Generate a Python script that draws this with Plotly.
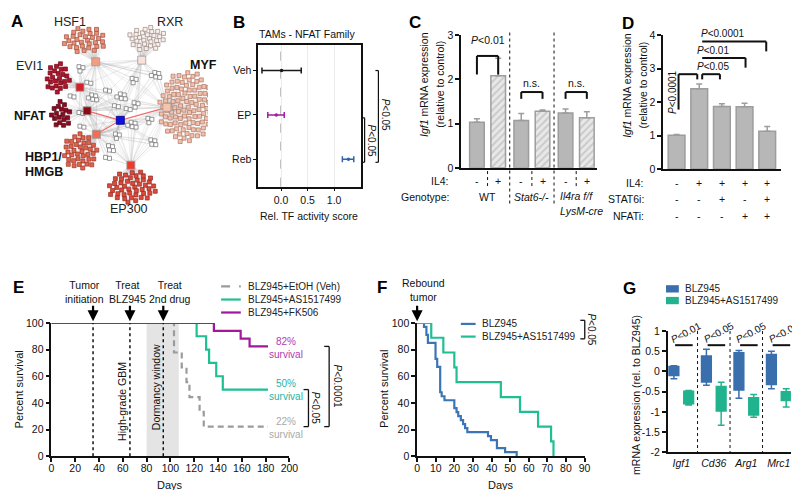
import numpy as np
import plotly.graph_objects as go

W, H = 800, 490
FONT = "Liberation Sans, Arial, Helvetica, sans-serif"
FS = 10.5

# ===================== DATA =====================
# A: TF-family network (number of target genes per family)
tf_families = ["HSF1", "RXR", "EVI1", "NFAT", "MYF", "HBP1/HMGB", "EP300"]
family_targets = [32, 28, 24, 18, 100, 38, 45]

# B: relative TF activity (NFAT family, TAMs)
b_groups = ["Veh", "EP", "Reb"]
b_score = [0.01, -0.09, 1.27]
b_low = [-0.36, -0.25, 1.155]
b_high = [0.38, 0.06, 1.37]

# C: Igf1 expression by genotype, control vs IL4
c_genotypes = ["WT", "Stat6-/-", "Il4ra f/f"]
c_ctrl = [1.03, 1.07, 1.24]
c_ctrl_err = [0.08, 0.16, 0.09]
c_il4 = [2.08, 1.28, 1.13]
c_il4_err = [0.40, 0.03, 0.14]

# D: Igf1 expression with inhibitors
d_il4 = ["-", "+", "+", "+", "+"]
d_stat6i = ["-", "-", "+", "-", "+"]
d_nfati = ["-", "-", "-", "+", "+"]
d_mean = [1.01, 2.40, 1.87, 1.86, 1.13]
d_err = [0.02, 0.14, 0.08, 0.11, 0.14]

# E: survival after BLZ945 + second drug
e_veh_days = [0, 103, 109.5, 113.5, 116, 124.5, 128, 182]
e_veh_surv = [100, 77.8, 66.7, 55.6, 44.4, 33.3, 22.2, 22.2]
e_as_days = [0, 122, 130, 132.5, 138.5, 144, 182]
e_as_surv = [100, 90, 80, 70, 60, 50, 50]
e_fk_days = [0, 136.5, 159, 166.5, 182]
e_fk_surv = [100, 94.1, 88.2, 82.4, 82.4]
e_event_days = [35, 66, 94]
e_dormancy = [80, 107]

# F: survival after rebound
f_blz_days = [0, 3.7, 5.0, 5.8, 9.9, 10.8, 12.4, 13.2, 14.7, 20, 21.2, 22.1, 23.5,
              24.7, 25.8, 27, 38.1, 39.7, 42.9, 47.3, 53.5]
f_blz_surv = [100, 97, 91, 85, 73, 67, 48, 45, 42, 36, 33, 30, 27, 24, 21, 18,
              15, 12, 6, 3, 0]
f_as_days = [0, 7.6, 14.1, 20, 21.2, 45, 55.3, 65, 72, 73.3]
f_as_surv = [100, 88.9, 77.8, 66.7, 55.6, 44.4, 33.3, 22.2, 11.1, 0]

# G: mRNA expression boxes (rel. to BLZ945)
g_genes = ["Igf1", "Cd36", "Arg1", "Mrc1"]
g_blz_min = [-0.18, -0.34, -0.66, -0.43]
g_blz_q1 = [-0.10, -0.26, -0.46, -0.32]
g_blz_med = [0.02, 0.10, 0.05, 0.05]
g_blz_q3 = [0.12, 0.38, 0.46, 0.42]
g_blz_max = [0.14, 0.55, 0.52, 0.50]
g_as_min = [-0.83, -1.33, -1.13, -0.88]
g_as_q1 = [-0.80, -0.98, -1.08, -0.72]
g_as_med = [-0.62, -0.60, -0.85, -0.58]
g_as_q3 = [-0.49, -0.37, -0.65, -0.50]
g_as_max = [-0.47, -0.27, -0.57, -0.43]
g_pvals = ["P<0.01", "P<0.05", "P<0.05", "P<0.01"]

# ===================== HELPERS =====================
def PX(x):
    return x / W


def PY(y):
    return 1 - y / H


class Frame:
    def __init__(self, px0, px1, xr, py0, py1, yr):
        self.px0, self.px1, self.xr = px0, px1, xr
        self.py0, self.py1, self.yr = py0, py1, yr

    def X(self, v):
        return self.px0 + (v - self.xr[0]) / (self.xr[1] - self.xr[0]) * (self.px1 - self.px0)

    def Y(self, v):
        return self.py1 - (v - self.yr[0]) / (self.yr[1] - self.yr[0]) * (self.py1 - self.py0)


annotations, shapes, traces = [], [], []


def text(x, y, s, size=FS, color="#111", xanchor="center", yanchor="middle", angle=0):
    annotations.append(dict(x=PX(x), y=PY(y), xref="paper", yref="paper", text=s,
                            showarrow=False, font=dict(family=FONT, size=size, color=color),
                            xanchor=xanchor, yanchor=yanchor, textangle=angle))


def seg(x0, y0, x1, y1, color="#111", width=1.5, dash=None, layer="above"):
    ln = dict(color=color, width=width)
    if dash:
        ln["dash"] = dash
    shapes.append(dict(type="line", xref="paper", yref="paper", x0=PX(x0), y0=PY(y0),
                       x1=PX(x1), y1=PY(y1), line=ln, layer=layer))


def rect(x0, y0, x1, y1, color):
    shapes.append(dict(type="rect", xref="paper", yref="paper", x0=PX(x0), y0=PY(y1),
                       x1=PX(x1), y1=PY(y0), fillcolor=color, line=dict(width=0)))


def arrow(x, ytip, length=17):
    annotations.append(dict(x=PX(x), y=PY(ytip), xref="paper", yref="paper", ax=0, ay=-length,
                            text="", showarrow=True, arrowhead=2, arrowsize=1,
                            arrowwidth=2.2, arrowcolor="#000", standoff=0))


P = "<i>P</i>&lt;"

frA = Frame(0, 200, (0, 200), 0, 225, (225, 0))
frB = Frame(251, 355, (-0.43, 1.5), 32, 177, (2.615, -0.57))
frC = Frame(457, 595, (-0.356, 2.711), 21.7, 157.7, (0, 3))
frD = Frame(662, 782, (-0.596, 4.62), 21.7, 159, (0, 4))
frE = Frame(41, 282.7, (0, 200), 316.7, 453.3, (0, 100))
frF = Frame(412.3, 582.3, (0, 90), 316.7, 453.3, (0, 100))
frG = Frame(666.7, 791.7, (-0.418, 3.37), 325, 449.3, (-2, 1))

# ===================== PANEL A =====================
A_STYLE = {
    "HSF1": dict(hub=(86, 49), c=(75, 27), r=(22, 13.5), fill="#e8917a", edge="#a24f3b", hubc="#f59c80"),
    "RXR": dict(hub=(132.7, 47.3), c=(138, 25), r=(19, 12.5), fill="#f9f0ec", edge="#9a8781", hubc="#f8e2da"),
    "EVI1": dict(hub=(70, 75), c=(47.5, 66), r=(12.5, 15.5), fill="#b3132b", edge="#760a1a", hubc="#d81e26"),
    "NFAT": dict(hub=(77.3, 99.3), c=(51, 103), r=(10, 14.5), fill="#8c0c22", edge="#580613", hubc="#8b0a14"),
    "MYF": dict(hub=(158.3, 95.7), c=(178, 95.5), r=(28, 37), fill="#f2c1ae", edge="#ad7563", hubc="#f9c2ab"),
    "HBP1/HMGB": dict(hub=(86.7, 123.3), c=(70, 141), r=(18, 18.5), fill="#e0634e", edge="#9c3526", hubc="#f56b53"),
    "EP300": dict(hub=(121.7, 155), c=(123, 177.5), r=(25, 16.5), fill="#dc4a3c", edge="#962a20", hubc="#ef3b2c"),
}
BLUE_NODE = (111, 109)
golden = np.pi * (3 - np.sqrt(5))
edge_x, edge_y = [], []
member_traces = []
hubs = []
for name, n in zip(tf_families, family_targets):
    st = A_STYLE[name]
    hx, hy = st["hub"]
    hubs.append((hx, hy))
    k = np.arange(n)
    rr = np.sqrt((k + 0.5) / n)
    th = k * golden
    mx = st["c"][0] + st["r"][0] * rr * np.cos(th)
    my = st["c"][1] + st["r"][1] * rr * np.sin(th)
    for a, b in zip(mx, my):
        edge_x += [hx, a, None]
        edge_y += [hy, b, None]
    member_traces.append(go.Scatter(
        x=mx, y=my, mode="markers", xaxis="x", yaxis="y", hoverinfo="skip",
        marker=dict(symbol="square", size=4, color=st["fill"], line=dict(color=st["edge"], width=0.7))))

# small unassigned target nodes (layout of the network drawing)
white_groups = [((69, 54), 3), ((77, 70), 2), ((82, 83), 5), ((60, 84), 2), ((69, 101), 2),
                ((70, 115), 2), ((96, 78), 2), ((111, 82), 5), ((123, 66), 3), ((105, 94), 2),
                ((125, 91), 3), ((122, 111), 5), ((99, 135), 4), ((142, 129), 4),
                ((146, 60), 5), ((117, 97), 2), ((96, 147), 2), ((106, 123), 3), ((139, 107), 3)]
offs = [(0, 0), (4, 1), (1, 4.5), (5, 5), (-3.5, 3)]
wx, wy = [], []
for (gx, gy), cnt in white_groups:
    for j in range(cnt):
        wx.append(gx + offs[j][0])
        wy.append(gy + offs[j][1])
hub_arr = np.array(hubs + [BLUE_NODE])
for a, b in zip(wx, wy):
    d = np.hypot(hub_arr[:, 0] - a, hub_arr[:, 1] - b)
    for idx in np.argsort(d)[:4]:
        edge_x += [hub_arr[idx, 0], a, None]
        edge_y += [hub_arr[idx, 1], b, None]
for i in range(len(hubs)):
    for j in range(i + 1, len(hubs)):
        edge_x += [hubs[i][0], hubs[j][0], None]
        edge_y += [hubs[i][1], hubs[j][1], None]

traces.append(go.Scatter(x=edge_x, y=edge_y, mode="lines", xaxis="x", yaxis="y", hoverinfo="skip",
                         line=dict(color="rgba(170,170,170,0.33)", width=0.6)))
red_x = [A_STYLE["NFAT"]["hub"][0], BLUE_NODE[0], A_STYLE["MYF"]["hub"][0], None,
         A_STYLE["HBP1/HMGB"]["hub"][0], BLUE_NODE[0]]
red_y = [A_STYLE["NFAT"]["hub"][1], BLUE_NODE[1], A_STYLE["MYF"]["hub"][1], None,
         A_STYLE["HBP1/HMGB"]["hub"][1], BLUE_NODE[1]]
traces.append(go.Scatter(x=red_x, y=red_y, mode="lines", xaxis="x", yaxis="y", hoverinfo="skip",
                         line=dict(color="#ef6a6a", width=1.1)))
traces += member_traces
traces.append(go.Scatter(x=wx, y=wy, mode="markers", xaxis="x", yaxis="y", hoverinfo="skip",
                         marker=dict(symbol="square", size=4, color="white",
                                     line=dict(color="#6f6f6f", width=0.7))))
traces.append(go.Scatter(x=[h[0] for h in hubs], y=[h[1] for h in hubs], mode="markers",
                         xaxis="x", yaxis="y", hoverinfo="skip",
                         marker=dict(symbol="square", size=8,
                                     color=[A_STYLE[n]["hubc"] for n in tf_families],
                                     line=dict(color="#9a9a9a", width=0.8))))
traces.append(go.Scatter(x=[BLUE_NODE[0]], y=[BLUE_NODE[1]], mode="markers", xaxis="x", yaxis="y",
                         hoverinfo="skip",
                         marker=dict(symbol="square", size=8, color="#1010e6",
                                     line=dict(color="#000080", width=0.8))))

text(60, 8, "HSF1", size=12.5, color="#222")
text(161, 8, "RXR", size=12.5, color="#222")
text(19, 53, "EVI1", size=12.5, color="#222")
text(19, 105, "<b>NFAT</b>", size=12.5)
text(180, 52, "<b>MYF</b>", size=12.5, xanchor="left")
text(12, 147, "<b>HBP1/</b>", size=12.5, xanchor="left")
text(12, 162, "<b>HMGB</b>", size=12.5, xanchor="left")
text(120, 200, "EP300", size=12.5, color="#222")

# ===================== PANEL B =====================
b_colors = ["#1a1a1a", "#a21ca6", "#2f62a8"]
for i in range(3):
    traces.append(go.Scatter(
        x=[b_score[i]], y=[i], mode="markers", xaxis="x2", yaxis="y2", cliponaxis=False,
        marker=dict(size=3.5, color=b_colors[i]),
        error_x=dict(type="data", symmetric=False, array=[b_high[i] - b_score[i]],
                     arrayminus=[b_score[i] - b_low[i]], color=b_colors[i], thickness=1.5, width=3)))
shapes.append(dict(type="line", xref="x2", yref="y2 domain", x0=0, x1=0, y0=0, y1=1,
                   line=dict(color="#777", width=1, dash="dash"), layer="below"))
text(301, 20, "TAMs - NFAT Family", size=FS)
text(303, 207, "Rel. TF activity score", size=FS)
# significance brackets
yv, yep, yrb = frB.Y(0), frB.Y(1), frB.Y(2)
seg(370, yv, 373, yv, width=1.2); seg(373, yv, 373, yrb + 3, width=1.2); seg(370, yrb + 3, 373, yrb + 3, width=1.2)
text(380, (yv + yrb) / 2, P + "0.05", size=FS - 0.5, angle=90)
seg(356, yep + 3, 359, yep + 3, width=1.2); seg(359, yep + 3, 359, yrb + 3, width=1.2); seg(356, yrb + 3, 359, yrb + 3, width=1.2)
text(366, (yep + yrb) / 2 + 3, P + "0.05", size=FS - 0.5, angle=90)

# ===================== PANEL C =====================
c_pos_ctrl = [g for g in range(3)]
c_pos_il4 = [g + 0.48 for g in range(3)]
traces.append(go.Bar(x=c_pos_ctrl, y=c_ctrl, width=0.33, xaxis="x3", yaxis="y3",
                     marker=dict(color="#b7b7b7", line=dict(color="#9d9d9d", width=1.5)),
                     error_y=dict(type="data", symmetric=False, array=c_ctrl_err,
                                  arrayminus=[0] * 3, color="#9d9d9d", thickness=1.5, width=3)))
traces.append(go.Bar(x=c_pos_il4, y=c_il4, width=0.33, xaxis="x3", yaxis="y3",
                     marker=dict(color="#e6e6e6", line=dict(color="#9d9d9d", width=1.5),
                                 pattern=dict(shape="/", bgcolor="#e8e8e8", fgcolor="#ababab",
                                              size=5, solidity=0.4)),
                     error_y=dict(type="data", symmetric=False, array=c_il4_err,
                                  arrayminus=[0] * 3, color="#9d9d9d", thickness=1.5, width=3)))
text(420, 72, "<i>Igf1</i> mRNA expression", size=FS, angle=-90)
text(436, 72, "(relative to control)", size=FS, angle=-90)
text(447, 171.5, "IL4:", size=FS, xanchor="right")
text(447, 188, "Genotype:", size=FS, xanchor="right")
for g in range(3):
    text(frC.X(c_pos_ctrl[g]), 171.5, "-", size=FS)
    text(frC.X(c_pos_il4[g]), 171.5, "+", size=FS)
    seg(frC.X(g + 0.24), 161, frC.X(g + 0.24), 178, width=1, dash="dot")
    if g < 2:
        seg(frC.X(g + 0.74), 19, frC.X(g + 0.74), 196, width=1, dash="dot")
text(frC.X(0.24), 188, "WT", size=FS)
text(frC.X(1.24), 188, "<i>Stat6-/-</i>", size=FS)
text(frC.X(2.24), 187, "<i>Il4ra f/f</i>", size=FS)
text(frC.X(2.24) + 5, 202, "<i>LysM-cre</i>", size=FS)
# brackets
x0, x1 = frC.X(0), frC.X(0.48)
seg(x0, 62, x0, 43, width=2); seg(x0, 43, x1, 43, width=2); seg(x1, 43, x1, 62, width=2)
text((x0 + x1) / 2, 27, P + "0.01", size=FS)
for g in (1, 2):
    x0, x1 = frC.X(g), frC.X(g + 0.48)
    seg(x0, 87, x0, 80, width=2); seg(x0, 80, x1, 80, width=2); seg(x1, 80, x1, 87, width=2)
    text((x0 + x1) / 2, 71, "n.s.", size=FS)

# ===================== PANEL D =====================
d_pos = list(range(len(d_mean)))
traces.append(go.Bar(x=d_pos, y=d_mean, width=0.74, xaxis="x4", yaxis="y4",
                     marker=dict(color="#b7b7b7", line=dict(color="#9d9d9d", width=1.5)),
                     error_y=dict(type="data", symmetric=False, array=d_err,
                                  arrayminus=[0] * 5, color="#9d9d9d", thickness=1.5, width=3)))
text(626, 73, "<i>Igf1</i> mRNA expression", size=FS, angle=-90)
text(642, 73, "(relative to control)", size=FS, angle=-90)
for row_y, lab, vals in ((173, "IL4:", d_il4), (190, "STAT6i:", d_stat6i), (207.5, "NFATi:", d_nfati)):
    text(645, row_y, lab, size=FS, xanchor="right")
    for k, v in enumerate(vals):
        text(frD.X(d_pos[k]), row_y, v, size=FS)
# brackets
xa, xb = frD.X(0) + 2, frD.X(1) - 2
seg(xa, 98, xa, 61.7, width=2); seg(xa, 61.7, xb, 61.7, width=2); seg(xb, 61.7, xb, 67, width=2)
text(671, 80, P + "0.0001", size=FS - 0.5, angle=-90)
xs = frD.X(1) + 3
seg(xs, 67, xs, 61.7, width=2); seg(xs, 61.7, frD.X(2) - 2, 61.7, width=2); seg(frD.X(2) - 2, 61.7, frD.X(2) - 2, 67, width=2)
text(713, 53.5, P + "0.05", size=FS - 0.5)
seg(xs, 45, frD.X(3) + 1, 45, width=2); seg(frD.X(3) + 1, 45, frD.X(3) + 1, 55, width=2)
text(713, 37, P + "0.01", size=FS - 0.5)
seg(xs, 28.3, frD.X(4) - 1, 28.3, width=2); seg(frD.X(4) - 1, 28.3, frD.X(4) - 1, 38.3, width=2)
text(723, 20.5, P + "0.0001", size=FS - 0.5)

# ===================== PANEL E =====================
shapes.append(dict(type="rect", xref="x5", yref="y5", x0=e_dormancy[0], x1=e_dormancy[1], y0=0, y1=100,
                   fillcolor="#e4e4e4", line=dict(width=0), layer="below"))
for d in e_event_days:
    shapes.append(dict(type="line", xref="x5", yref="y5", x0=d, x1=d, y0=0, y1=100,
                       line=dict(color="#111", width=1.5, dash="dot"), layer="above"))
E_GRAY, E_GREEN, E_PURPLE = "#9b9b9b", "#1fbf93", "#a3169f"
traces.append(go.Scatter(x=e_veh_days, y=e_veh_surv, mode="lines", line_shape="hv", xaxis="x5", yaxis="y5",
                         cliponaxis=False, line=dict(color=E_GRAY, width=2.2, dash="6px,4px")))
traces.append(go.Scatter(x=e_as_days, y=e_as_surv, mode="lines", line_shape="hv", xaxis="x5", yaxis="y5",
                         cliponaxis=False, line=dict(color=E_GREEN, width=2.2)))
traces.append(go.Scatter(x=e_fk_days, y=e_fk_surv, mode="lines", line_shape="hv", xaxis="x5", yaxis="y5",
                         cliponaxis=False, line=dict(color=E_PURPLE, width=2.2)))
for d in e_event_days:
    arrow(frE.X(d), 315)
text(74.5, 284.5, "Tumor<br>initiation", size=FS)
text(118, 284.5, "Treat<br>BLZ945", size=FS)
text(161, 284.5, "Treat<br>2nd drug", size=FS)
text(113.3, 397, "High-grade GBM", size=FS, angle=-90)
text(146.7, 382, "Dormancy window", size=FS, angle=-90)
# legend
for yy, col, dsh, lab in ((279.3, E_GRAY, "dash", "BLZ945+EtOH (Veh)"),
                          (292.7, E_GREEN, None, "BLZ945+AS1517499"),
                          (306, E_PURPLE, None, "BLZ945+FK506")):
    seg(213.3, yy, 233.3, yy, color=col, width=2.2, dash=dsh)
    text(238.3, yy, lab, size=10, xanchor="left", color="#222")
text(279, 342, "82%<br>survival", size=10, color="#b13bb0")
text(279, 385.5, "50%<br>survival", size=10, color="#27b3a6")
text(279, 424, "22%<br>survival", size=10, color="#a9a9a9")
y50, y22, y82 = frE.Y(50), frE.Y(22.2), frE.Y(82.4)
seg(297, y50, 302, y50, width=1.3); seg(302, y50, 302, y22, width=1.3); seg(297, y22, 302, y22, width=1.3)
text(310, (y50 + y22) / 2, P + "0.05", size=FS - 0.5, angle=90)
seg(318, y82, 323, y82, width=1.3); seg(323, y82, 323, y22, width=1.3); seg(318, y22, 323, y22, width=1.3)
text(331, (y82 + y22) / 2, P + "0.0001", size=FS - 0.5, angle=90)
text(8, 385, "Percent survival", size=FS + 0.5, angle=-90)
text(frE.X(100), 483, "Days", size=FS + 0.5)

# ===================== PANEL F =====================
F_BLUE, F_GREEN = "#3b74b7", "#1fbf93"
traces.append(go.Scatter(x=f_blz_days, y=f_blz_surv, mode="lines", line_shape="hv", xaxis="x6", yaxis="y6",
                         cliponaxis=False, line=dict(color=F_BLUE, width=2.2)))
traces.append(go.Scatter(x=f_as_days, y=f_as_surv, mode="lines", line_shape="hv", xaxis="x6", yaxis="y6",
                         cliponaxis=False, line=dict(color=F_GREEN, width=2.2)))
arrow(frF.X(0), 315)
text(418.5, 282.5, "Rebound<br>tumor", size=FS)
seg(456.7, 317.7, 471.7, 317.7, color=F_BLUE, width=2.2)
text(476, 317.7, "BLZ945", size=10, xanchor="left", color="#222")
seg(456.7, 330.7, 471.7, 330.7, color=F_GREEN, width=2.2)
text(476, 330.7, "BLZ945+AS1517499", size=10, xanchor="left", color="#222")
seg(578, 314, 582.5, 314, width=1.3); seg(582.5, 314, 582.5, 333, width=1.3); seg(578, 333, 582.5, 333, width=1.3)
text(589, 323.5, P + "0.05", size=FS - 0.5, angle=90)
text(378, 384, "Percent survival", size=FS + 0.5, angle=-90)
text(frF.X(45), 483, "Days", size=FS + 0.5)

# ===================== PANEL G =====================
G_BLUE, G_GREEN = "#3a6fae", "#20b38e"
gpos = list(range(len(g_genes)))
traces.append(go.Box(x=[p - 0.227 for p in gpos], q1=g_blz_q1, median=g_blz_med, q3=g_blz_q3,
                     lowerfence=g_blz_min, upperfence=g_blz_max, width=0.3, whiskerwidth=0.7,
                     fillcolor=G_BLUE, line=dict(color=G_BLUE, width=1.5), xaxis="x7", yaxis="y7",
                     hoverinfo="skip"))
traces.append(go.Box(x=[p + 0.227 for p in gpos], q1=g_as_q1, median=g_as_med, q3=g_as_q3,
                     lowerfence=g_as_min, upperfence=g_as_max, width=0.3, whiskerwidth=0.7,
                     fillcolor=G_GREEN, line=dict(color=G_GREEN, width=1.5), xaxis="x7", yaxis="y7",
                     hoverinfo="skip"))
for k in range(len(g_genes) - 1):
    seg(frG.X(k + 0.5), 325, frG.X(k + 0.5), 449.3, width=1, dash="dot")
for k, pv in enumerate(g_pvals):
    yl = frG.Y(0.65)
    seg(frG.X(k - 0.19), yl, frG.X(k + 0.35), yl, width=2)
    text(frG.X(k) + 5, 327, pv.replace("P<", P), size=FS - 0.5, angle=-28)
rect(665, 278, 678, 285.5, G_BLUE)
text(682, 281.7, "BLZ945", size=10, xanchor="left", color="#222")
rect(665, 290, 678, 297.5, G_GREEN)
text(682, 293.7, "BLZ945+AS1517499", size=10, xanchor="left", color="#222")
text(635, 390, "mRNA expression (rel. to BLZ945)", size=FS, angle=-90)

# ===================== PANEL LETTERS =====================
for lx, ly, L in ((6, 8, "A"), (231, 9, "B"), (410, 9, "C"), (626, 10, "D"),
                  (7.5, 280, "E"), (376.7, 280, "F"), (628, 281.7, "G")):
    text(lx, ly, "<b>%s</b>" % L, size=17, color="#000")

# ===================== LAYOUT =====================
def ax_common():
    return dict(showgrid=False, zeroline=False, showline=True, linecolor="#111", linewidth=1.5,
                tickfont=dict(family=FONT, size=FS, color="#111"), ticks="outside", ticklen=4,
                tickwidth=1.5, tickcolor="#111")


def xdom(fr):
    return [PX(fr.px0), PX(fr.px1)]


def ydom(fr):
    return [PY(fr.py1), PY(fr.py0)]


layout = dict(width=W, height=H, margin=dict(l=0, r=0, t=0, b=0), paper_bgcolor="white",
              plot_bgcolor="white", showlegend=False, annotations=annotations, shapes=shapes,
              font=dict(family=FONT, size=FS, color="#111"), barmode="overlay")

layout["xaxis"] = dict(domain=xdom(frA), range=list(frA.xr), visible=False, anchor="y")
layout["yaxis"] = dict(domain=ydom(frA), range=[frA.yr[0], frA.yr[1]], visible=False, anchor="x")

xb = ax_common(); xb.update(domain=xdom(frB), range=list(frB.xr), anchor="y2", mirror=True,
                            tickvals=[0, 0.5, 1.0], ticktext=["0.0", "0.5", "1.0"], showgrid=True,
                            gridcolor="#ececec", gridwidth=1, ticklen=3, tickwidth=1)
yb = ax_common(); yb.update(domain=ydom(frB), range=[frB.yr[0], frB.yr[1]], anchor="x2", mirror=True,
                            tickvals=[0, 1, 2], ticktext=b_groups, ticklen=3, tickwidth=1)
layout["xaxis2"], layout["yaxis2"] = xb, yb

xc = ax_common(); xc.update(domain=xdom(frC), range=list(frC.xr), anchor="y3", ticks="", showticklabels=False)
yc = ax_common(); yc.update(domain=ydom(frC), range=[0, 3], anchor="x3", tickvals=[0, 1, 2, 3])
layout["xaxis3"], layout["yaxis3"] = xc, yc

xd = ax_common(); xd.update(domain=xdom(frD), range=list(frD.xr), anchor="y4", ticks="", showticklabels=False)
yd = ax_common(); yd.update(domain=ydom(frD), range=[0, 4], anchor="x4", tickvals=[0, 1, 2, 3, 4])
layout["xaxis4"], layout["yaxis4"] = xd, yd

xe = ax_common(); xe.update(domain=xdom(frE), range=[0, 200], anchor="y5", tick0=0, dtick=20,
                            ticklabelstandoff=-3)
ye = ax_common(); ye.update(domain=ydom(frE), range=[0, 100], anchor="x5", tick0=0, dtick=20)
layout["xaxis5"], layout["yaxis5"] = xe, ye

xf = ax_common(); xf.update(domain=xdom(frF), range=[0, 90], anchor="y6", tick0=0, dtick=10,
                            ticklabelstandoff=-3)
yf = ax_common(); yf.update(domain=ydom(frF), range=[0, 100], anchor="x6", tick0=0, dtick=20)
layout["xaxis6"], layout["yaxis6"] = xf, yf

xg = ax_common(); xg.update(domain=xdom(frG), range=list(frG.xr), anchor="y7", tickvals=gpos,
                            ticktext=["<i>%s</i>" % g for g in g_genes], ticks="")
yg = ax_common(); yg.update(domain=ydom(frG), range=[-2, 1], anchor="x7",
                            tickvals=[-2, -1.5, -1, -0.5, 0, 0.5, 1],
                            ticktext=["-2", "-1.5", "-1", "-0.5", "0", "0.5", "1"])
layout["xaxis7"], layout["yaxis7"] = xg, yg

for t in traces:
    t.showlegend = False
fig = go.Figure(data=traces, layout=layout)
fig.write_html("out.html")
